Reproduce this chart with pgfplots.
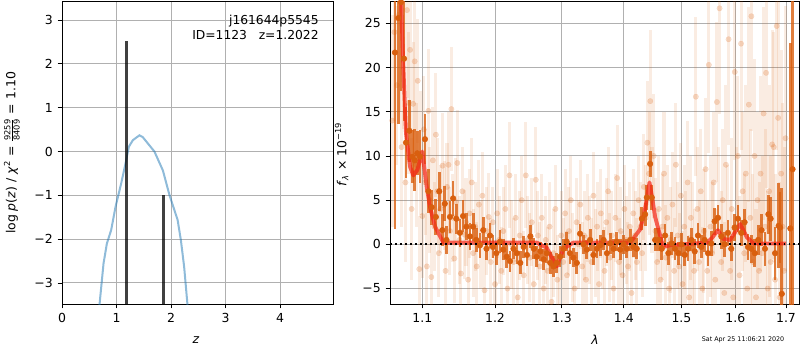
\documentclass[border=0pt]{standalone}
\usepackage{pgfplots}
\pgfplotsset{compat=1.18}
\usepackage{pgfplotstable}
\usepackage{fontspec}
\setmainfont{DejaVu Sans}
\definecolor{orgC}{RGB}{217,95,14}
\definecolor{blueC}{RGB}{31,119,180}
\definecolor{gridC}{RGB}{176,176,176}
\definecolor{modC}{RGB}{245,35,20}

\pgfplotstableread{
x y e
1.0646 21.7 20
1.0689 25.6 12
1.0723 27.4 10
1.0762 21.0 7
1.0787 11.5 4
1.0831 12.85 3.5
1.0870 9.9 3
1.0901 9.5 3.5
1.0934 10.3 2.5
1.0970 9.9 3
1.1035 11.9 2.8
1.1080 6.0 2.5
1.1124 4.2 2.0
1.1180 3.1 2.0
1.1225 6.0 2.2
1.1266 1.6 1.8
1.1300 4.6 2.0
1.1323 0.5 1.6
1.1371 3.1 1.8
1.1413 5.2 2.0
1.1457 2.9 1.7
1.1507 1.3 1.6
1.1550 3.2 1.8
1.1597 2.0 1.5
1.1646 0.9 1.5
1.1690 2.0 1.6
1.1734 0.5 1.4
1.1786 -0.1 1.4
1.1832 1.6 1.5
1.1878 -0.5 1.3
1.1928 1.0 1.4
1.1970 -0.3 1.3
1.2020 -1.0 1.3
1.2072 0.3 1.3
1.2120 -0.6 1.2
1.2169 -1.4 1.3
1.2218 -1.9 1.2
1.2268 -0.5 1.2
1.2318 -1.0 1.2
1.2368 -2.1 1.3
1.2418 -0.3 1.2
1.2468 -1.2 1.2
1.2519 0.9 1.3
1.2570 -0.5 1.2
1.2615 -1.4 1.2
1.2670 -0.8 1.1
1.2720 -1.7 1.2
1.2767 -1.0 1.1
1.2820 -2.1 1.2
1.2870 -2.5 1.2
1.2921 -2.1 1.1
1.2972 -1.4 1.2
1.3024 -0.5 1.1
1.3075 0.3 1.1
1.3126 -1.0 1.2
1.3180 -1.5 1.1
1.3234 -2.1 1.2
1.3286 1.2 1.1
1.3340 0.0 1.1
1.3393 -0.6 1.1
1.3447 0.5 1.2
1.3500 -1.2 1.1
1.3556 -0.5 1.1
1.3610 -0.1 1.2
1.3665 0.5 1.1
1.3720 -1.0 1.1
1.3775 0.1 1.2
1.3830 -0.5 1.1
1.3884 0.3 1.1
1.3940 -0.6 1.2
1.3995 0.0 1.1
1.4050 -0.5 1.1
1.4107 0.5 1.2
1.4163 -0.3 1.1
1.4219 -0.5 1.2
1.4305 2.9 1.3
1.4362 3.4 1.3
1.4391 5.3 1.4
1.4448 9.1 1.5
1.4477 5.3 1.4
1.4535 0.5 1.3
1.4593 0.5 1.3
1.4651 -0.5 1.3
1.4709 1.0 1.3
1.4766 -1.0 1.3
1.4826 0.1 1.3
1.4884 -0.5 1.3
1.4943 -1.0 1.3
1.5000 0.0 1.3
1.5060 -1.2 1.3
1.5120 -0.5 1.4
1.5180 0.5 1.3
1.5240 -0.8 1.4
1.5300 1.0 1.4
1.5360 -0.3 1.3
1.5422 0.5 1.4
1.5484 -1.0 1.4
1.5545 0.1 1.4
1.5607 2.6 1.5
1.5669 3.0 1.5
1.5732 0.9 1.4
1.5795 0.0 1.4
1.5858 1.3 1.5
1.5922 -0.5 1.4
1.5985 1.9 1.5
1.6050 2.9 1.5
1.6114 1.3 1.5
1.6178 2.5 1.5
1.6244 -0.3 1.5
1.6310 -0.5 1.6
1.6376 -1.0 1.6
1.6443 0.5 1.7
1.6510 1.6 1.8
1.6577 -0.5 1.9
1.6645 3.4 2.2
1.6690 2.9 2.5
1.6780 -1.0 3.0
1.6850 2.1 4.8
1.6880 1.9 4.0
1.6915 -5.6 12
1.7087 1.8 21
1.7133 8.5 30
}\fg

\pgfplotstableread{
x y e
1.061 14 12
1.064 24 10
1.067 18 9
1.070 26 11
1.073 11 9
1.076 21 8
1.078 7 9
1.080 26.5 10
1.082 16 8
1.084 22 9
1.086 4 8
1.088 15.9 7
1.090 20.7 8
1.092 9 7
1.094 18.5 7
1.096 -2.8 6
1.098 10.3 7
1.100 3.2 7
1.102 13 6
1.104 7 6
1.106 -2.5 6
1.108 15.1 7
1.110 5 6
1.112 -3.7 6
1.114 9.5 6
1.116 2 5
1.118 12.4 7
1.120 6 6
1.122 -1 5
1.124 4 5
1.127 8.9 6
1.129 4.4 5
1.131 -3 5
1.133 6.5 5
1.135 9.0 6
1.137 1.5 5
1.139 15.3 7
1.141 3 5
1.143 -1.6 5
1.145 4.8 5
1.147 9.2 6
1.150 0.5 5
1.152 -3.3 5
1.154 6 5
1.157 1.1 5
1.159 2.5 5
1.162 -4.0 5
1.164 3.5 5
1.167 7 5
1.169 -1 5
1.172 2 5
1.174 -2.5 5
1.177 4.5 5
1.180 0 5
1.182 5.5 5
1.185 -5.2 5
1.188 1.5 5
1.191 3.1 5
1.194 -2 5
1.197 2.5 4
1.200 -4.5 5
1.203 3.5 5
1.206 0.5 5
1.209 -3 5
1.212 1.5 5
1.215 4 5
1.218 -5 5
1.221 7.8 6
1.224 0 5
1.227 -2 5
1.230 3 5
1.233 -6 5
1.236 1 5
1.239 5 5
1.242 -3.5 5
1.245 7.8 6
1.248 0.5 5
1.251 -1.5 5
1.254 2.5 5
1.257 -4.5 5
1.260 7.3 6
1.263 1 5
1.266 -2.5 5
1.269 3 5
1.272 -5 5
1.275 0.5 5
1.278 -3 5
1.281 2 5
1.284 -6.5 5
1.287 -1 5
1.290 4 5
1.293 -4 5
1.296 -7 5
1.299 1 5
1.302 -2 5
1.305 3.5 5
1.308 -3.5 5
1.311 1.5 5
1.314 5 5
1.317 -1.5 5
1.320 -5 5
1.323 2.5 5
1.326 0 5
1.329 4.5 5
1.332 -2.5 5
1.335 1 5
1.338 -4 5
1.341 3 5
1.344 0.5 5
1.347 -2 5
1.350 5.5 5
1.353 -1 5
1.356 2 5
1.359 -4.5 5
1.362 3.5 5
1.365 0 5
1.368 -3 5
1.371 2.5 5
1.374 6 5
1.377 -1.5 5
1.380 1 5
1.383 -5 5
1.386 3 5
1.389 7.5 6
1.392 -2 5
1.395 1.5 5
1.398 -3.5 5
1.401 4 5
1.404 0.5 5
1.407 -2.5 5
1.410 2 5
1.413 -5.5 5
1.416 3.5 5
1.419 1 5
1.422 -2 5
1.425 5 5
1.428 2 5
1.431 -1 5
1.434 6.5 6
1.437 3 6
1.440 11.5 7
1.443 8 7
1.445 16.2 8
1.448 5 6
1.451 10 7
1.454 1.5 6
1.457 -2 6
1.460 4 6
1.463 -4 6
1.466 2 6
1.469 8 7
1.472 -1.5 6
1.475 3 6
1.478 -5 6
1.481 0.5 6
1.484 4.5 6
1.487 -3 6
1.490 9 7
1.493 1 6
1.496 -2.5 6
1.499 5.5 6
1.502 -4.5 6
1.505 2 7
1.508 -1 7
1.511 7 7
1.514 -6 7
1.517 3 7
1.520 0 7
1.523 -3 7
1.526 16.7 9
1.529 4 7
1.532 -2 7
1.535 6 7
1.538 -5 7
1.541 1.5 7
1.544 8.5 8
1.547 -3 8
1.550 20.3 10
1.553 2 8
1.556 -1 8
1.559 7 8
1.562 -4 8
1.565 16.1 9
1.568 3 8
1.570 26.7 12
1.573 -2 8
1.576 5 8
1.579 -5.5 8
1.582 9 9
1.585 1 8
1.587 23.2 12
1.590 -3 8
1.593 4 8
1.596 -6 8
1.599 19.5 10
1.602 2 9
1.605 10 9
1.608 -3.5 9
1.611 22.7 12
1.614 6 9
1.617 -1 9
1.620 8 10
1.623 -5 10
1.626 15.8 11
1.629 3 10
1.631 25.8 13
1.634 -2 10
1.637 10 11
1.640 -6 10
1.643 5 10
1.646 -3 10
1.649 8 11
1.652 -1 11
1.655 14.8 12
1.658 2 11
1.660 19.4 13
1.663 -5 11
1.666 6 12
1.669 -2 12
1.672 11.3 13
1.675 11.0 13
1.678 -4 12
1.681 24.7 14
1.684 14.3 14
1.687 -6 13
1.690 8 14
1.693 2 14
1.696 -3 14
1.699 12 15
}\bg

\begin{document}
\begin{tikzpicture}
\useasboundingbox (0,0) rectangle (578.16pt,252.95pt);
\pgfplotsset{
  every axis/.append style={
    scale only axis, anchor=south west,
    tick label style={font=\fontsize{9}{11}\selectfont},
    tick align=outside, major tick length=3.2pt,
    xtick pos=lower, ytick pos=left,
    every tick/.style={black, line width=0.6pt},
    axis line style={line width=0.7pt},
    grid=major, major grid style={gridC, line width=0.7pt},
    minor xtick={}, minor ytick={},
  }
}
% left panel
\begin{axis}[at={(44.81pt,33.24pt)}, width=195.85pt, height=218.8pt,
  xmin=0, xmax=4.97, ymin=-3.48, ymax=3.43,
  xtick={0,1,2,3,4}, xticklabels={0,1,2,3,4},
  ytick={-3,-2,-1,0,1,2,3}, yticklabels={−3,−2,−1,0,1,2,3}]
\addplot[blueC, opacity=0.5, line width=1.45pt] coordinates {
(0.66,-3.75) (0.689,-3.48) (0.762,-2.55) (0.823,-2.10) (0.902,-1.79) (0.982,-1.26)
(1.085,-0.73) (1.165,-0.27) (1.226,0.11) (1.30,0.26) (1.42,0.37) (1.48,0.33)
(1.695,0.0) (1.85,-0.43) (1.97,-0.99) (2.12,-1.56) (2.18,-2.02) (2.24,-2.63)
(2.30,-3.48) (2.32,-3.75)};
\addplot[black, opacity=0.75, line width=2pt] coordinates {(1.18,-3.6) (1.18,2.52)};
\addplot[black, opacity=0.75, line width=2pt] coordinates {(1.866,-3.6) (1.866,-1.0)};
\end{axis}
% right panel
\begin{axis}[at={(281.85pt,33.24pt)}, width=295.58pt, height=218.8pt,
  xmode=log, xmin=1.0583, xmax=1.7267, ymin=-6.75, ymax=27.5,
  xtick={1.1,1.2,1.3,1.4,1.5,1.6,1.7}, xticklabels={1.1,1.2,1.3,1.4,1.5,1.6,1.7},
  ytick={-5,0,5,10,15,20,25}, yticklabels={−5,0,5,10,15,20,25}]
% background: error bars, then markers
\addplot[draw=none, mark=none,
  error bars/.cd, y dir=both, y explicit, error mark=none,
  error bar style={solid, line width=2.2pt, draw=orgC, draw opacity=0.12}]
  table[x=x, y=y, y error=e] {\bg};
\addplot[only marks, mark=*, mark size=2pt, draw=orgC, fill=orgC, line width=0.1pt, opacity=0.22]
  table[x=x, y=y] {\bg};
% foreground: error bars, then markers
\addplot[draw=none, mark=none,
  error bars/.cd, y dir=both, y explicit, error mark=none,
  error bar style={solid, line width=2pt, draw=orgC, draw opacity=0.8}]
  table[x=x, y=y, y error=e] {\fg};
\addplot[only marks, mark=*, mark size=2pt, color=orgC, fill=orgC]
  table[x=x, y=y] {\fg};
\addplot[modC, opacity=0.7, line width=2.8pt, line join=round] coordinates {
(1.072,28.5) (1.0753,20.1) (1.0787,12.6) (1.0839,8.8) (1.0882,7.8) (1.0934,8.4)
(1.1,10.5) (1.1058,6.5) (1.1102,4.2) (1.1169,2.0) (1.128,0.2) (1.2615,0.2)
(1.2767,-0.4) (1.2921,-2.5) (1.3024,-0.5) (1.318,0.2) (1.4107,0.2) (1.4277,1.7)
(1.435,3.6) (1.4437,7.0) (1.4480,5.4) (1.4535,3.1) (1.4622,1.0) (1.4675,-0.3)
(1.4798,-0.1) (1.5464,0.2) (1.5557,0.7) (1.5669,1.6) (1.5774,0.6) (1.5901,0.5)
(1.6093,2.3) (1.6222,0.8) (1.6351,0.1) (1.70,0.1)};
\addplot[black, line width=1.4pt, dash pattern=on 1.4pt off 2.2pt] coordinates {(1.0583,0) (1.7267,0)};
\end{axis}
% labels
\node[rotate=90, font=\fontsize{9}{11}\selectfont] at (8.6pt,142.4pt)
  {log \textit{p}(\textit{z}) / \textit{χ}\textsuperscript{2} = $\frac{\mbox{\fontsize{6}{7}\selectfont 9259}}{\mbox{\fontsize{6}{7}\selectfont 8409}}$ = 1.10};
\node[rotate=90, font=\fontsize{9}{11}\selectfont] at (246.9pt,141.3pt)
  {\textit{f}\textsubscript{\textit{λ}} × 10\textsuperscript{−19}};
\node[font=\fontsize{9}{11}\selectfont] at (141.6pt,7.4pt) {\textit{z}};
\node[font=\fontsize{9}{11}\selectfont] at (430pt,7.4pt) {\textit{λ}};
\node[font=\fontsize{4.6}{5.5}\selectfont] at (537pt,7.6pt) {Sat Apr 25 11:06:21 2020};
\node[font=\fontsize{8.9}{11}\selectfont, anchor=base east, inner sep=0pt] at (230.5pt,234.9pt) {j161644p5545};
\node[font=\fontsize{8.9}{11}\selectfont, anchor=base east, inner sep=0pt] at (230.5pt,224.5pt) {ID=1123\ \ \ z=1.2022};
\end{tikzpicture}
\end{document}
